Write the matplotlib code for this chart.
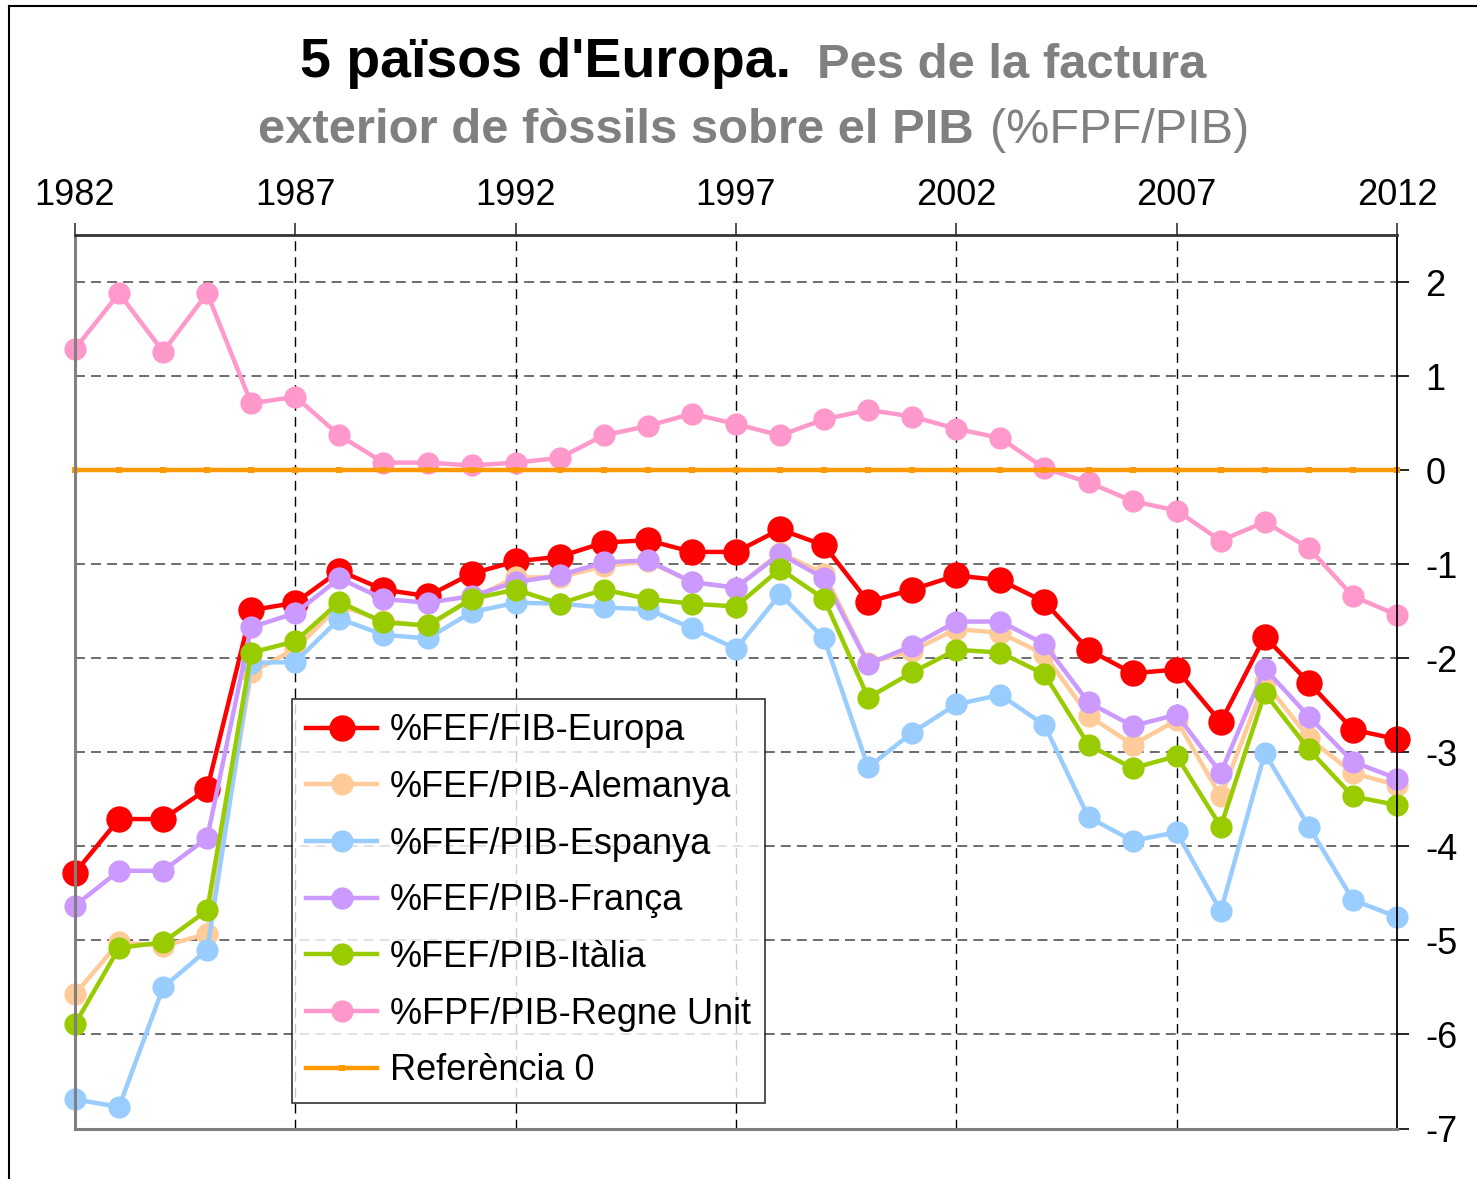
import matplotlib
matplotlib.use("Agg")
import matplotlib.pyplot as plt
from matplotlib.lines import Line2D

plt.rcParams['font.family'] = ['Liberation Sans', 'DejaVu Sans']

W, H = 1477, 1179
DPI = 100

years = list(range(1982, 2013))

europa = [-4.28, -3.71, -3.71, -3.39, -1.49, -1.41, -1.07, -1.27, -1.34, -1.10,
          -0.97, -0.92, -0.77, -0.745, -0.87, -0.87, -0.63, -0.80, -1.40, -1.27,
          -1.12, -1.17, -1.40, -1.91, -2.16, -2.12, -2.68, -1.77, -2.26, -2.76, -2.86]
alemanya = [-5.57, -5.02, -5.06, -4.93, -2.15, -1.90, -1.44, -1.60, -1.66, -1.37,
            -1.14, -1.14, -1.02, -0.97, -1.19, -1.25, -0.88, -1.10, -2.05, -1.92,
            -1.69, -1.73, -1.96, -2.61, -2.92, -2.66, -3.47, -2.25, -2.85, -3.22, -3.35]
espanya = [-6.69, -6.77, -5.50, -5.10, -2.05, -2.04, -1.58, -1.75, -1.79, -1.51,
           -1.41, -1.42, -1.46, -1.48, -1.68, -1.90, -1.32, -1.79, -3.16, -2.79,
           -2.49, -2.39, -2.71, -3.69, -3.94, -3.85, -4.69, -3.01, -3.79, -4.57, -4.75]
franca = [-4.63, -4.26, -4.26, -3.91, -1.67, -1.52, -1.15, -1.37, -1.41, -1.34,
          -1.19, -1.12, -0.98, -0.96, -1.19, -1.25, -0.89, -1.15, -2.06, -1.87,
          -1.61, -1.61, -1.85, -2.47, -2.72, -2.60, -3.22, -2.11, -2.62, -3.10, -3.28]
italia = [-5.89, -5.08, -5.02, -4.68, -1.94, -1.82, -1.40, -1.62, -1.65, -1.37,
          -1.27, -1.42, -1.27, -1.37, -1.42, -1.45, -1.05, -1.37, -2.42, -2.15,
          -1.91, -1.94, -2.17, -2.92, -3.17, -3.04, -3.79, -2.37, -2.97, -3.47, -3.56]
regne_unit = [1.29, 1.88, 1.26, 1.88, 0.71, 0.78, 0.37, 0.08, 0.08, 0.05,
              0.08, 0.13, 0.37, 0.47, 0.60, 0.49, 0.37, 0.54, 0.64, 0.57,
              0.44, 0.34, 0.02, -0.13, -0.33, -0.43, -0.75, -0.55, -0.83, -1.34, -1.54]
referencia = [0.0] * len(years)

series_labels = ["%FEF/FIB-Europa", "%FEF/PIB-Alemanya", "%FEF/PIB-Espanya",
                 "%FEF/PIB-França", "%FEF/PIB-Itàlia", "%FPF/PIB-Regne Unit"]
series_colors = ["#FF0000", "#FFCC99", "#99CCFF", "#CC99FF", "#99CC00", "#FF99CC"]
series_values = [europa, alemanya, espanya, franca, italia, regne_unit]
ref_label = "Referència 0"
ref_color = "#FF9900"

x_ticks = list(range(1982, 2013, 5))
y_ticks = list(range(-7, 3))

fig = plt.figure(figsize=(W / DPI, H / DPI), dpi=DPI)
fig.patch.set_facecolor("white")

ax = fig.add_axes([75 / W, 1 - 1128.5 / H, (1397 - 75) / W, (1128.5 - 235) / H])
ax.set_xlim(1982, 2012)
ax.set_ylim(-7, 2.5)

# dashed grid: dark grey horizontals, black verticals
for yv in y_ticks[1:]:
    ax.axhline(yv, color="#454545", lw=1.1, ls=(0, (6.5, 4)), zorder=1)
for xv in x_ticks[1:-1]:
    ax.axvline(xv, color="black", lw=1.0, ls=(0, (7, 4.5)), zorder=1)

for i, (lab, col, vals) in enumerate(zip(series_labels, series_colors, series_values)):
    ms = 19 if i == 0 else 16
    ax.plot(years, vals, color=col, lw=3.2, marker="o", markersize=ms,
            markeredgewidth=0, label=lab, clip_on=False, zorder=3 + i)

ax.plot(years, referencia, color=ref_color, lw=3.2, marker="s", markersize=5,
        markeredgewidth=0, label=ref_label, clip_on=False, zorder=10)

# axes frame
ax.spines["left"].set_color("#808080")
ax.spines["left"].set_linewidth(2.2)
ax.spines["bottom"].set_color("#808080")
ax.spines["bottom"].set_linewidth(2.2)
ax.spines["top"].set_color("#333333")
ax.spines["top"].set_linewidth(2.0)
ax.spines["right"].set_color("black")
ax.spines["right"].set_linewidth(1.3)
for sp in ax.spines.values():
    sp.set_zorder(12)

ax.xaxis.tick_top()
ax.set_xticks(x_ticks)
ax.set_xticklabels([str(v) for v in x_ticks])
ax.tick_params(axis="x", which="both", direction="out", length=8.5, width=1.2,
               color="#333333", labelsize=26, pad=7)
ax.yaxis.tick_right()
ax.set_yticks(y_ticks)
ax.set_yticklabels([str(v) for v in y_ticks])
ax.tick_params(axis="y", which="both", direction="out", length=8.5, width=1.2,
               color="black", labelsize=26, pad=12)

leg = ax.legend(loc="upper left", bbox_to_anchor=(292 / W, 1 - 699 / H),
                bbox_transform=fig.transFigure, prop={"size": 26}, frameon=True,
                fancybox=False, shadow=False, borderaxespad=0, borderpad=0.4,
                handlelength=1.95, handletextpad=0.35, labelspacing=0.6,
                numpoints=1)
leg.get_frame().set_edgecolor("black")
leg.get_frame().set_linewidth(1.2)
leg.set_zorder(20)

# title, drawn piece by piece
def put(text, x_px, base_px, size, color, weight):
    fig.text(x_px / W, 1 - base_px / H, text, fontsize=size, color=color,
             fontweight=weight, ha="left", va="baseline")

put("5 països d'Europa.", 300, 77, 40, "black", "bold")
put("Pes de la factura", 817, 78, 35.3, "#808080", "bold")
put("exterior de fòssils sobre el PIB", 258, 143, 35.3, "#808080", "bold")
put("(%FPF/PIB)", 990, 143, 35, "#808080", "normal")

# outer frame lines
fig.add_artist(Line2D([9 / W, 9 / W], [0, 1 - 6 / H], transform=fig.transFigure,
                      color="black", lw=1.5))
fig.add_artist(Line2D([9 / W, 1], [1 - 6 / H, 1 - 6 / H], transform=fig.transFigure,
                      color="black", lw=1.5))

fig.savefig("out.png", dpi=DPI)
